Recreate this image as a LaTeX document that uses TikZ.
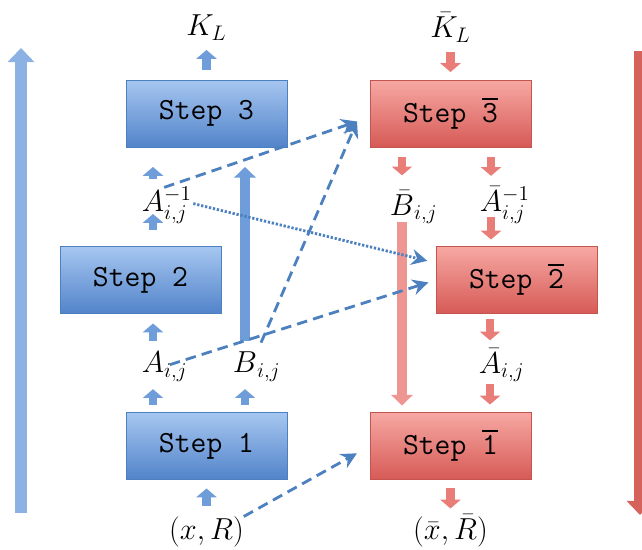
\documentclass[tikz,border=0pt]{standalone}
\usepackage{tikz}
\usetikzlibrary{arrows.meta, positioning, calc}
\definecolor{boxblue1}{RGB}{166,198,240}
\definecolor{boxblue2}{RGB}{82,132,202}
\definecolor{lineblue}{RGB}{76,128,190}
\definecolor{boxred1}{RGB}{247,168,163}
\definecolor{boxred2}{RGB}{214,90,86}
\definecolor{linered}{RGB}{196,84,80}
\definecolor{fatblue}{RGB}{110,157,218}
\definecolor{fatred}{RGB}{233,126,120}
\definecolor{bigblue}{RGB}{140,178,228}
\definecolor{bigred}{RGB}{214,98,92}
\definecolor{longred}{RGB}{238,150,145}
\newcommand{\ovl}[1]{\vbox{\hrule height 1.2pt\kern 2pt\hbox{#1}}}
\tikzset{
    block_blue/.style={rectangle, draw=lineblue, top color=boxblue1, bottom color=boxblue2, minimum width=3.22cm, minimum height=1.34cm, inner sep=0pt, outer sep=0pt, font=\fontsize{17.5}{20}\selectfont\ttfamily},
    block_red/.style={rectangle, draw=linered, top color=boxred1, bottom color=boxred2, minimum width=3.22cm, minimum height=1.34cm, inner sep=0pt, outer sep=0pt, font=\fontsize{17.5}{20}\selectfont\ttfamily},
    lbl/.style={inner sep=0pt, outer sep=0pt, font=\fontsize{17}{20}\selectfont},
    fat_blue/.style={draw=fatblue, line width=5pt, -{Triangle[width=11.4pt, length=5pt]}},
    fat_red/.style={draw=fatred, line width=5pt, -{Triangle[width=11.4pt, length=5pt]}},
    long_blue/.style={draw=fatblue, line width=6.2pt, -{Triangle[width=12pt, length=6pt]}},
    long_red/.style={draw=longred, line width=6.2pt, -{Triangle[width=12pt, length=6pt]}},
    big_blue/.style={draw=bigblue, line width=6.3pt, -{Triangle[width=14.8pt, length=8pt]}},
    big_red/.style={draw=bigred, line width=6.3pt, -{Triangle[width=14.8pt, length=8pt]}},
    link_dashed/.style={draw=lineblue, line width=1.6pt, dash pattern=on 6pt off 3.5pt, -{Stealth[length=9pt, width=9pt, inset=3pt]}},
    link_dotted/.style={draw=lineblue, line width=1.6pt, dash pattern=on 1.3pt off 1pt, -{Stealth[length=9pt, width=9pt, inset=3pt]}}
}
\begin{document}
\begin{tikzpicture}[x=0.02cm, y=-0.02cm, node distance=1cm]
\useasboundingbox (0,0) rectangle (642,550);
% steps, forward side
\node (s3) [block_blue] at (206.5,113.5) {Step 3};
\node (s2) [block_blue] at (140.5,280) {Step 2};
\node (s1) [block_blue] at (206.5,446) {Step 1};
% steps, backward side
\node (s3b) [block_red] at (450.5,113.5) {Step \ovl{3}};
\node (s2b) [block_red] at (516.5,280) {Step \ovl{2}};
\node (s1b) [block_red] at (450.5,446) {Step \ovl{1}};

\node (kl) [lbl, above=0.8cm of s3] {$K_L$};
\node (kbl) [lbl, above=0.76cm of s3b] {$\bar{K}_L$};
\node (xr) [lbl, below=0.74cm of s1] {$(x,R)$};
\node (xrb) [lbl, below=0.7cm of s1b] {$(\bar{x},\bar{R})$};
\node (aij) [lbl] at (153,366.5) {$A\rlap{$_{i,j}$}$};
\node (bij) [lbl] at (245,366.5) {$B\rlap{$_{i,j}$}$};
\node (ainv) [lbl] at (153,205.5) {$A\rlap{$^{-1}_{i,j}$}$};
\node (bbar) [lbl] at (402,207) {$\bar{B}\rlap{$_{i,j}$}$};
\node (abinv) [lbl] at (491,205) {$\bar{A}\rlap{$^{-1}_{i,j}$}$};
\node (abar) [lbl] at (490,365) {$\bar{A}\rlap{$_{i,j}$}$};

\coordinate (up_bot) at (21,513);
\coordinate (up_top) at (21,48);
\coordinate (down_top) at (640,51);
\coordinate (down_bot) at (640,515);
\coordinate (in3) at ($(s3b.west)+(-13,8)$);

\draw [big_blue] (up_bot) -- (up_top);
\draw [big_red] (down_top) -- (down_bot);

% forward arrows
\draw [fat_blue, shorten <=0.2cm, shorten >=0.2cm] (s3) -- (kl);
\draw [fat_blue, shorten <=0.16cm, shorten >=0.4cm] (ainv.north) -- (s3.south -| ainv);
\draw [fat_blue, shorten <=0.34cm, shorten >=0.04cm] (s2.north -| ainv) -- (ainv.base);
\draw [fat_blue, shorten <=0.22cm, shorten >=0.2cm] (aij.north) -- (s2.south -| aij);
\draw [fat_blue, shorten <=0.16cm, shorten >=0.16cm] (s1.north -| aij) -- (aij.south);
\draw [fat_blue, shorten <=0.16cm, shorten >=0.16cm] (s1.north -| bij) -- (bij.south);
\draw [fat_blue, shorten <=0.2cm, shorten >=0.18cm] (xr) -- (s1);
\draw [long_blue, shorten <=0.22cm, shorten >=0.4cm] (bij.north) -- (s3.south -| bij);

% backward arrows
\draw [fat_red, shorten <=0.2cm, shorten >=0.16cm] (kbl) -- (s3b);
\draw [fat_red, shorten <=0.2cm, shorten >=0.3cm] (s3b.south -| bbar) -- (bbar.north);
\draw [fat_red, shorten <=0.2cm, shorten >=0.22cm] (s3b.south -| abinv) -- (abinv.north);
\draw [fat_red, shorten <=0.1cm, shorten >=0.14cm] (abinv.base) -- (s2b.north -| abinv);
\draw [fat_red, shorten <=0.12cm, shorten >=0.16cm] (s2b.south -| abar) -- (abar.north);
\draw [fat_red, shorten <=0.04cm, shorten >=0.16cm] (abar.south) -- (s1b.north -| abar);
\draw [fat_red, shorten <=0.18cm, shorten >=0.12cm] (s1b) -- (xrb);
\draw [long_red, shorten <=0.14cm, shorten >=0.14cm] (bbar.base) -- (s1b.north -| bbar);

% links across
\draw [link_dashed] (ainv.north east) -- (in3);
\draw [link_dashed, shorten <=0.2cm] (bij.north east) -- (in3);
\draw [link_dashed, shorten <=0.12cm, shorten >=0.16cm] (aij.east) -- (s2b.west);
\draw [link_dashed, shorten >=0.3cm] (xr.north east) -- (s1b.west);
\draw [link_dotted, shorten <=0.6cm, shorten >=0.18cm] ($(ainv.east)+(0,-9)$) -- ($(s2b.west)+(0,-17)$);
\end{tikzpicture}
\end{document}
